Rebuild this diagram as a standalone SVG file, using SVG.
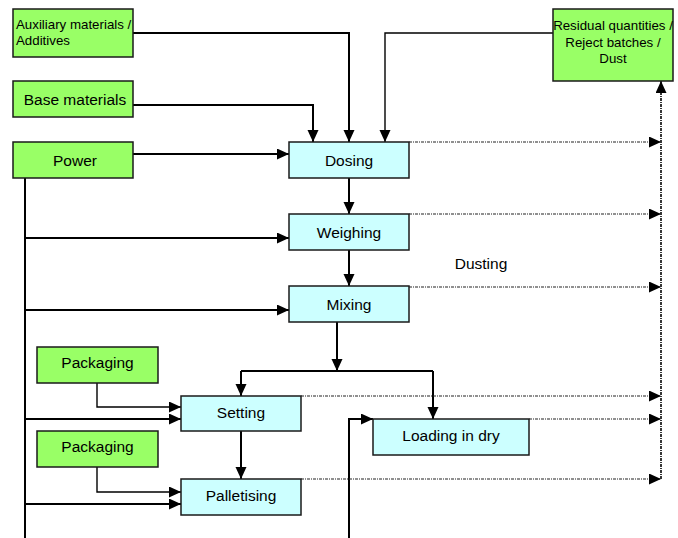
<svg xmlns="http://www.w3.org/2000/svg" width="678" height="538" viewBox="0 0 678 538">
<style>
.g{fill:#99ff66;stroke:#1a1a1a;stroke-width:1.5}
.c{fill:#ccffff;stroke:#1a1a1a;stroke-width:1.5}
text{font-family:"Liberation Sans",Arial,sans-serif;font-size:15.5px;fill:#000;text-anchor:middle}
.s{font-size:13.3px}
.l{text-anchor:start}
.sol{fill:none;stroke:#000;stroke-width:2;marker-end:url(#ah)}
.thin{fill:none;stroke:#000;stroke-width:1.4;marker-end:url(#ah)}
.plain{fill:none;stroke:#000;stroke-width:2}
.dot{fill:none;stroke:#222;stroke-width:1.2;stroke-dasharray:3 1 1 1;marker-end:url(#ah)}
</style>
<defs>
<marker id="ah" markerUnits="userSpaceOnUse" markerWidth="13" markerHeight="12" refX="12" refY="5.5" orient="auto">
<path d="M0,0 L12,5.5 L0,11 z" fill="#000"/>
</marker>
</defs>
<rect width="678" height="538" fill="#fff"/>
<g id="connectors">
<path class="sol" d="M133,33 H349 V142"/>
<path class="sol" d="M133,105 H313 V142"/>
<path class="thin" d="M553,33 H385 V142"/>
<path class="sol" d="M133,154 H289"/>
<path class="plain" d="M25,178 V538"/>
<path class="sol" d="M25,238 H289"/>
<path class="sol" d="M25,310 H289"/>
<path class="sol" d="M25,419 H181"/>
<path class="sol" d="M25,504 H181"/>
<path class="sol" d="M349,178 V214"/>
<path class="sol" d="M349,250 V286"/>
<path class="sol" d="M337,322 V371"/>
<path class="plain" d="M241,371 H433"/>
<path class="sol" d="M241,371 V396"/>
<path class="sol" d="M433,371 V419"/>
<path class="sol" d="M241,431 V479"/>
<path class="thin" d="M97,383 V407 H181"/>
<path class="thin" d="M97,467 V492 H181"/>
<path class="sol" d="M349,538 V419 H373"/>
<path class="dot" d="M409,142 H661"/>
<path class="dot" d="M409,214 H661"/>
<path class="dot" d="M409,287 H661"/>
<path class="dot" d="M301,396 H661"/>
<path class="dot" d="M529,419 H661"/>
<path class="dot" d="M301,479 H661"/>
<path class="dot" d="M661,479 V81" style="stroke-width:1.8"/>
</g>
<g id="aux"><rect class="g" x="13" y="9" width="120" height="48"/><text class="s l" x="16" y="28.5">Auxiliary materials /</text><text class="s l" x="16" y="45">Additives</text></g>
<g id="base"><rect class="g" x="13" y="81" width="120" height="36"/><text x="75" y="104.5">Base materials</text></g>
<g id="power"><rect class="g" x="13" y="142" width="120" height="36"/><text x="75" y="165.5">Power</text></g>
<g id="residual"><rect class="g" x="553" y="9" width="120" height="72"/><text class="s" x="613" y="29.5">Residual quantities /</text><text class="s" x="613" y="46.5">Reject batches /</text><text class="s" x="613" y="63">Dust</text></g>
<g id="dosing"><rect class="c" x="289" y="142" width="120" height="36"/><text x="349" y="165.5">Dosing</text></g>
<g id="weighing"><rect class="c" x="289" y="214" width="120" height="36"/><text x="349" y="237.5">Weighing</text></g>
<g id="mixing"><rect class="c" x="289" y="286" width="120" height="36"/><text x="349" y="309.5">Mixing</text></g>
<g id="dusting"><text x="481" y="269">Dusting</text></g>
<g id="packaging1"><rect class="g" x="37" y="347" width="121" height="36"/><text x="97.5" y="368">Packaging</text></g>
<g id="packaging2"><rect class="g" x="37" y="431" width="121" height="36"/><text x="97.5" y="452">Packaging</text></g>
<g id="setting"><rect class="c" x="181" y="396" width="120" height="35"/><text x="241" y="417.5">Setting</text></g>
<g id="palletising"><rect class="c" x="181" y="479" width="120" height="36"/><text x="241" y="501">Palletising</text></g>
<g id="loading"><rect class="c" x="373" y="419" width="156" height="36"/><text x="451" y="441">Loading in dry</text></g>
</svg>
